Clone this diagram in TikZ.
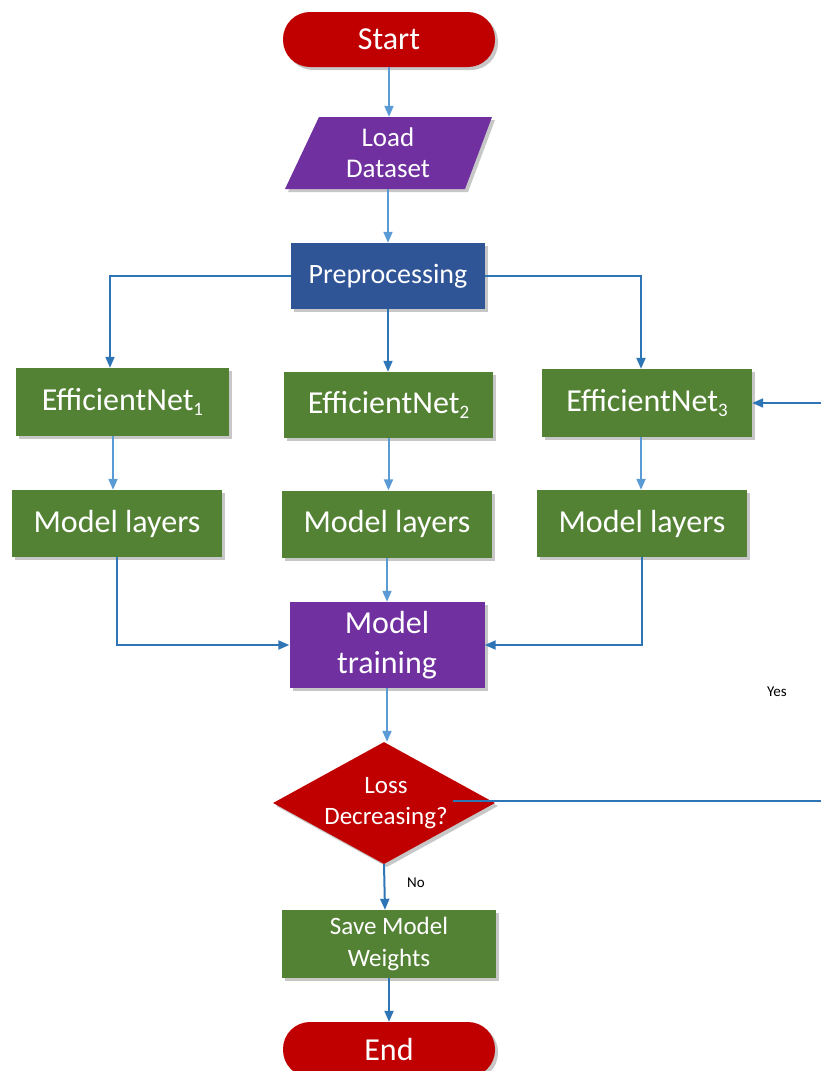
\documentclass[tikz,border=0pt]{standalone}
\usepackage{fontspec}
\setmainfont{Carlito}
\usetikzlibrary{shapes.geometric,shadows,arrows.meta}
\definecolor{cred}{HTML}{C00000}
\definecolor{cpurple}{HTML}{7030A0}
\definecolor{cblue}{HTML}{2F5597}
\definecolor{cgreen}{HTML}{548235}
\definecolor{lline}{HTML}{5B9BD5}
\definecolor{dline}{HTML}{2E75B6}
\newcommand{\mysub}[1]{\raisebox{-5pt}{\fontsize{19}{19}\selectfont #1}}
\tikzset{
  shade/.style={drop shadow={shadow xshift=3pt,shadow yshift=-3pt,fill=black,opacity=0.22}},
  boxbase/.style={rectangle,inner sep=0pt,text=white,align=center,shade},
  pill/.style={boxbase,fill=cred,minimum width=212,minimum height=55,rounded corners=27pt,font=\fontsize{32}{36}\selectfont},
  gbox/.style={boxbase,fill=cgreen,minimum width=210,minimum height=67,font=\fontsize{32}{36}\selectfont},
  pbox/.style={boxbase,fill=cpurple,minimum width=195,minimum height=86,font=\fontsize{32}{40}\selectfont},
  prebox/.style={boxbase,fill=cblue,minimum width=194,minimum height=66,font=\fontsize{28}{32}\selectfont},
  lconn/.style={draw=lline,line width=2pt,-{Triangle[length=11pt,width=9pt]}},
  dconn/.style={draw=dline,line width=2pt,-{Triangle[length=11pt,width=9pt]}},
  smalllabel/.style={font=\fontsize{15}{18}\selectfont,text=black,inner sep=0pt}
}
\begin{document}
\begin{tikzpicture}[x=1pt,y=-1pt]
\useasboundingbox (0,0) rectangle (821,1071);
\clip (0,0) rectangle (821,1071);

% nodes
\node[pill] (start) at (389,39.5) {Start};
\coordinate (lc) at (388,153);
\fill[cpurple,shade,shift={(lc)}] (-69,-36) -- (104,-36) -- (77,36) -- (-103,36) -- cycle;
\node[rectangle,inner sep=0pt,minimum width=173,minimum height=72,text=white,align=center,font=\fontsize{27}{31}\selectfont] (load) at (lc) {Load\\Dataset};
\node[prebox] (pre) at (388,276) {Preprocessing};

\node[gbox,minimum width=213,minimum height=68] (en1) at (122.5,402) {EfficientNet\mysub{1}};
\node[gbox,minimum width=209,minimum height=66] (en2) at (388.5,405) {EfficientNet\mysub{2}};
\node[gbox,minimum width=210,minimum height=68] (en3) at (647,403) {EfficientNet\mysub{3}};

\node[gbox] (ml1) at (117,523.5) {Model layers};
\node[gbox] (ml2) at (387,524) {Model layers};
\node[gbox] (ml3) at (642,523.5) {Model layers};

\node[pbox] (train) at (387,645) {Model\\training};

\node[diamond,fill=cred,shade,inner sep=0pt,minimum width=222,minimum height=122] (dia) at (384,803) {};
\node[text=white,align=center,inner sep=0pt,font=\fontsize{25}{31}\selectfont] (diatext) at (386,803) {Loss\\Decreasing?};

\node[gbox,minimum width=214,minimum height=68,font=\fontsize{25}{32}\selectfont] (save) at (389,944) {Save Model\\Weights};
\node[pill] (end) at (389,1049.5) {End};

\node[smalllabel] (yes) at (777,692) {Yes};
\node[smalllabel] (no) at (416,883) {No};

% connectors
\draw[lconn] (start.south) -- (start.south |- load.north);
\draw[lconn] (load.south) -- (load.south |- pre.north);
\draw[dconn] (pre.west) -| ([xshift=-12.5]en1.north);
\draw[dconn] (pre.south) -- (pre.south |- en2.north);
\draw[dconn] (pre.east) -| ([xshift=-6]en3.north);
\draw[lconn] ([xshift=-9.5]en1.south) -- ([xshift=-9.5]en1.south |- ml1.north);
\draw[lconn] (en2.south) -- (en2.south |- ml2.north);
\draw[lconn] ([xshift=-6]en3.south) -- ([xshift=-6]en3.south |- ml3.north);
\draw[dconn] (ml1.south) |- (train.west);
\draw[lconn] (ml2.south) -- (ml2.south |- train.north);
\draw[dconn] (ml3.south) |- (train.east);
\draw[lconn] (train.south) -- (train.south |- dia.north);
\draw[dconn] (dia.south) -- ([xshift=1]dia.south |- save.north);
\draw[dconn] (save.south) -- (save.south |- end.north);
\coordinate (loopstart) at ([xshift=-42,yshift=2]dia.east);
\coordinate (loopr) at (830,801);
\draw[dconn] (loopstart) -- (loopstart -| loopr) |- (en3.east);
\end{tikzpicture}
\end{document}
